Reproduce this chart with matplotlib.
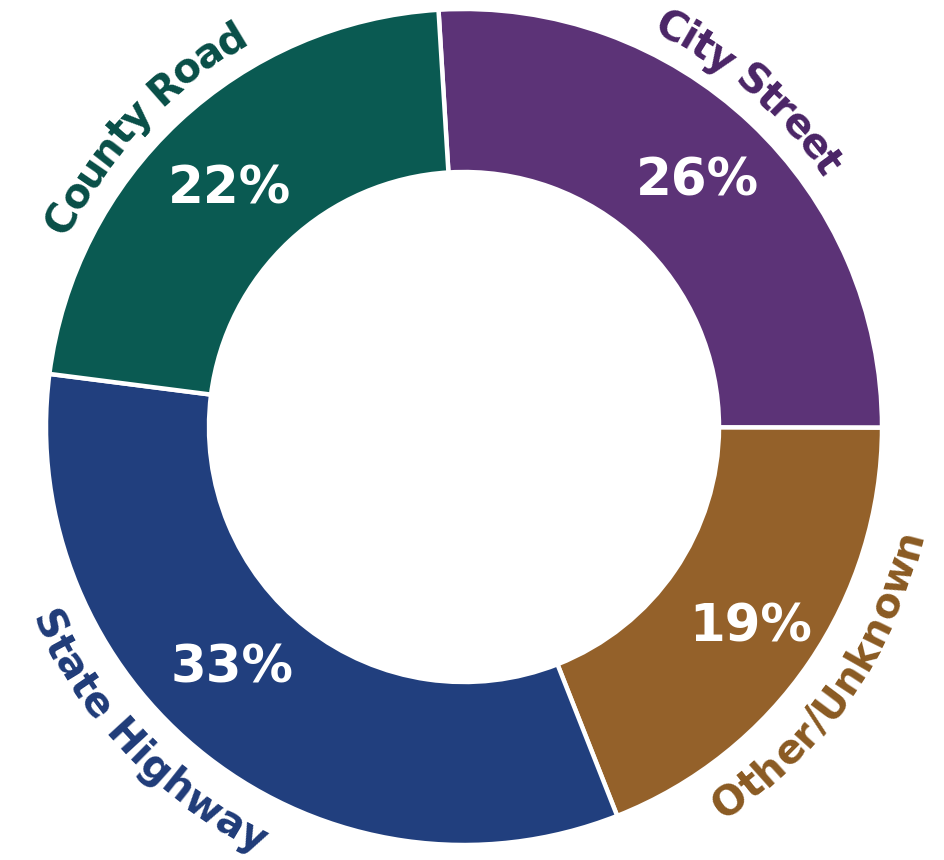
import numpy as np
import matplotlib
matplotlib.use("Agg")
import matplotlib.pyplot as plt
from matplotlib import font_manager as fm
from matplotlib.ft2font import FT2Font

# ---- data ----
categories = ["City Street", "Other/Unknown", "State Highway", "County Road"]
shares = [26, 19, 33, 22]
pct_labels = ["26%", "19%", "33%", "22%"]

# ---- style ----
ring_colors = ["#5C3377", "#94612A", "#213F7E", "#0A5A52"]
text_colors = ["#4A2466", "#8A5A22", "#1F3B78", "#084E47"]
FAMILY = "DejaVu Sans"
DPI = 100
W, H = 945, 860
CX, CY = 464, H - 427
R_OUT, R_IN = 418, 255
START = 93.5

fig = plt.figure(figsize=(W / DPI, H / DPI), dpi=DPI)
ax = fig.add_axes([0, 0, 1, 1])
ax.pie(shares, startangle=START, counterclock=False, colors=ring_colors,
       radius=R_OUT, center=(CX, CY),
       wedgeprops=dict(width=R_OUT - R_IN, edgecolor="white", linewidth=3.2))
ax.set_xlim(0, W)
ax.set_ylim(0, H)
ax.set_aspect("equal")
ax.axis("off")

# percentage labels
fp_bold = fm.FontProperties(family=FAMILY, weight="bold")
PCT_PT = 37
pct_px = PCT_PT * DPI / 72
cap = 0.729
pct_angle_offset = [0.3, 0, -6.5, 1.0]
pct_radius = [342, 347, 331, 337]
bounds = START - np.cumsum([0] + shares) * 3.6
for i, lab in enumerate(pct_labels):
    mid = (bounds[i] + bounds[i + 1]) / 2 + pct_angle_offset[i]
    a = np.deg2rad(mid)
    x = CX + pct_radius[i] * np.cos(a)
    y = CY + pct_radius[i] * np.sin(a) - cap * pct_px / 2
    ax.text(x, y, lab, color="white", fontsize=PCT_PT, fontweight="bold",
            family=FAMILY, ha="center", va="baseline")

# curved category labels
LAB_PT = 29
font = FT2Font(fm.findfont(fp_bold))
font.set_size(LAB_PT, DPI)


def advances(s):
    out = []
    for ch in s:
        g = font.load_char(ord(ch))
        try:
            out.append(g.linearHoriAdvance / 65536.0)
        except Exception:
            out.append(g.horiAdvance / 64.0)
    return np.array(out)


# center angle, baseline radius, tops outward?, tracking (px)
label_layout = [
    (49.5, 437, True, -1.8),
    (-34.8, 471, False, 0.3),
    (224.0, 473, False, 0.3),
    (136.7, 440, True, -1.8),
]

for i, text in enumerate(categories):
    theta_c, r, outward, track = label_layout[i]
    adv = advances(text) + track
    L = adv.sum() - track
    s_centers = np.cumsum(adv) - adv / 2
    for ch, s in zip(text, s_centers):
        if outward:
            th = np.deg2rad(theta_c) + (L / 2 - s) / r
            rot = np.rad2deg(th) - 90
        else:
            th = np.deg2rad(theta_c) - (L / 2 - s) / r
            rot = np.rad2deg(th) + 90
        x = CX + r * np.cos(th)
        y = CY + r * np.sin(th)
        ax.text(x, y, ch, color=text_colors[i], fontsize=LAB_PT,
                fontweight="bold", family=FAMILY, rotation=rot,
                rotation_mode="anchor", ha="center", va="baseline")

fig.savefig("out.png", dpi=DPI, facecolor="white")
